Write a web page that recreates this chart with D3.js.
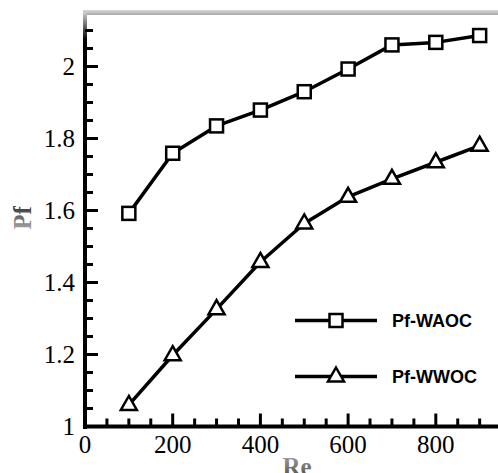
<!DOCTYPE html>
<html>
<head>
<meta charset="utf-8">
<script src="https://cdn.jsdelivr.net/npm/d3@7"></script>
<style>
  body { margin: 0; background: #fff; }
  svg { display: block; }
  .serif { font-family: "Liberation Serif", "Times New Roman", Times, serif; }
</style>
</head>
<body>
<script>
// donnees
var reValues = [100, 200, 300, 400, 500, 600, 700, 800, 900];
var pfWAOC = [1.592, 1.759, 1.835, 1.879, 1.930, 1.993, 2.060, 2.067, 2.086];
var pfWWOC = [1.060, 1.198, 1.326, 1.457, 1.564, 1.638, 1.688, 1.734, 1.780];
var xTicks = [0, 200, 400, 600, 800];
var yTicks = [1, 1.2, 1.4, 1.6, 1.8, 2];
var seriesNames = ["Pf-WAOC", "Pf-WWOC"];

var w = 498, h = 473;

var x = d3.scaleLinear().domain([0, 1000]).range([85, 85 + 438.5]);
var y = d3.scaleLinear().domain([1, 2.15]).range([426.5, 12.5]);

var svg = d3.select("body").append("svg")
  .attr("width", w)
  .attr("height", h);

var defs = svg.append("defs");
var gTop = defs.append("linearGradient").attr("id", "gTop")
  .attr("x1", 0).attr("y1", 0).attr("x2", 0).attr("y2", 1);
gTop.append("stop").attr("offset", "0%").attr("stop-color", "#d8d8d8");
gTop.append("stop").attr("offset", "100%").attr("stop-color", "#a8a8a8");

var gLeft = defs.append("linearGradient").attr("id", "gLeft")
  .attr("gradientUnits", "userSpaceOnUse")
  .attr("x1", 0).attr("y1", 12).attr("x2", 0).attr("y2", 40);
gLeft.append("stop").attr("offset", "0%").attr("stop-color", "#cfcfcf");
gLeft.append("stop").attr("offset", "100%").attr("stop-color", "#000");

var gText = defs.append("linearGradient").attr("id", "gText")
  .attr("x1", 0).attr("y1", 0).attr("x2", 0).attr("y2", 1);
gText.append("stop").attr("offset", "0%").attr("stop-color", "#aaa");
gText.append("stop").attr("offset", "100%").attr("stop-color", "#444");

var gTextV = defs.append("linearGradient").attr("id", "gTextV")
  .attr("x1", 0).attr("y1", 0).attr("x2", 1).attr("y2", 0);
gTextV.append("stop").attr("offset", "0%").attr("stop-color", "#aaa");
gTextV.append("stop").attr("offset", "100%").attr("stop-color", "#333");

// cadre haut
svg.append("rect")
  .attr("x", 83).attr("y", 10)
  .attr("width", w - 83).attr("height", 5)
  .style("fill", "url(#gTop)");

// axe Y
svg.append("rect")
  .attr("x", 83).attr("y", 12)
  .attr("width", 4).attr("height", 417)
  .style("fill", "url(#gLeft)");

// axe X
svg.append("line")
  .attr("x1", 83).attr("x2", w)
  .attr("y1", 426.5).attr("y2", 426.5)
  .style("stroke", "#000").style("stroke-width", 4);

// graduations X (vers l'interieur)
var xMinor = d3.range(50, 1000, 50);
svg.selectAll(".xtick")
  .data(xMinor)
  .enter()
  .append("line")
  .attr("x1", function(d) { return x(d); })
  .attr("x2", function(d) { return x(d); })
  .attr("y1", 426.5)
  .attr("y2", function(d) { return d % 200 == 0 ? 426.5 - 13 : 426.5 - 8; })
  .style("stroke", "#000").style("stroke-width", 3);

svg.selectAll(".xlab")
  .data(xTicks)
  .enter()
  .append("text")
  .attr("class", "serif")
  .attr("x", function(d) { return x(d); })
  .attr("y", 453)
  .attr("text-anchor", "middle")
  .style("font-size", "25px")
  .text(function(d) { return d; });

// graduations Y
var yMinor = d3.range(1.05, 2.15, 0.05);
svg.selectAll(".ytick")
  .data(yMinor)
  .enter()
  .append("line")
  .attr("x1", 85)
  .attr("x2", function(d) {
    var k = Math.round(d * 100);
    return k % 20 == 0 ? 85 + 13 : 85 + 8;
  })
  .attr("y1", function(d) { return y(d); })
  .attr("y2", function(d) { return y(d); })
  .style("stroke", "#000").style("stroke-width", 3);

svg.selectAll(".ylab")
  .data(yTicks)
  .enter()
  .append("text")
  .attr("class", "serif")
  .attr("x", 75)
  .attr("y", function(d) { return y(d) + 8.5; })
  .attr("text-anchor", "end")
  .style("font-size", "25px")
  .text(function(d) { return d; });

// titres des axes
svg.append("text")
  .attr("class", "serif")
  .attr("x", 297).attr("y", 475)
  .attr("text-anchor", "middle")
  .style("font-size", "25px")
  .style("font-weight", "bold")
  .style("fill", "url(#gText)")
  .text("Re");

svg.append("text")
  .attr("class", "serif")
  .attr("transform", "translate(31,218) rotate(-90)")
  .attr("text-anchor", "middle")
  .style("font-size", "25px")
  .style("font-weight", "bold")
  .style("fill", "url(#gTextV)")
  .text("Pf");

// courbes
var line = d3.line()
  .x(function(d, i) { return x(reValues[i]); })
  .y(function(d) { return y(d); });

var clip = defs.append("clipPath").attr("id", "plot");
clip.append("rect").attr("x", 85).attr("y", 13).attr("width", w - 85).attr("height", 414);

var plot = svg.append("g").attr("clip-path", "url(#plot)");

[pfWAOC, pfWWOC].forEach(function(serie) {
  plot.append("path")
    .datum(serie)
    .attr("d", line)
    .style("fill", "none")
    .style("stroke", "#000")
    .style("stroke-width", 3.5)
    .style("stroke-linejoin", "round");
});

var triangle = "M0,-8L8,6L-8,6Z";

function square(g, cx, cy) {
  g.append("rect")
    .attr("x", cx - 6.5).attr("y", cy - 6.5)
    .attr("width", 13).attr("height", 13)
    .style("fill", "#fff").style("stroke", "#000").style("stroke-width", 2.5);
}
function tri(g, cx, cy) {
  g.append("path")
    .attr("d", triangle)
    .attr("transform", "translate(" + cx + "," + (cy - 1) + ")")
    .style("fill", "#fff").style("stroke", "#000").style("stroke-width", 2.5)
    .style("stroke-linejoin", "miter");
}

pfWAOC.forEach(function(d, i) { square(svg, x(reValues[i]), y(d)); });
pfWWOC.forEach(function(d, i) { tri(svg, x(reValues[i]), y(d)); });

// legende
var legY = [320.5, 376.5];
seriesNames.forEach(function(name, i) {
  svg.append("line")
    .attr("x1", 295).attr("x2", 377)
    .attr("y1", legY[i]).attr("y2", legY[i])
    .style("stroke", "#000").style("stroke-width", 3.5);
  if (i == 0) square(svg, 336, legY[i]);
  else tri(svg, 336, legY[i]);
  svg.append("text")
    .attr("x", 392)
    .attr("y", legY[i] + 6.5)
    .style("font-family", "'Liberation Sans', Arial, sans-serif")
    .style("font-size", "18px")
    .style("font-weight", "bold")
    .text(name);
});
</script>
</body>
</html>
